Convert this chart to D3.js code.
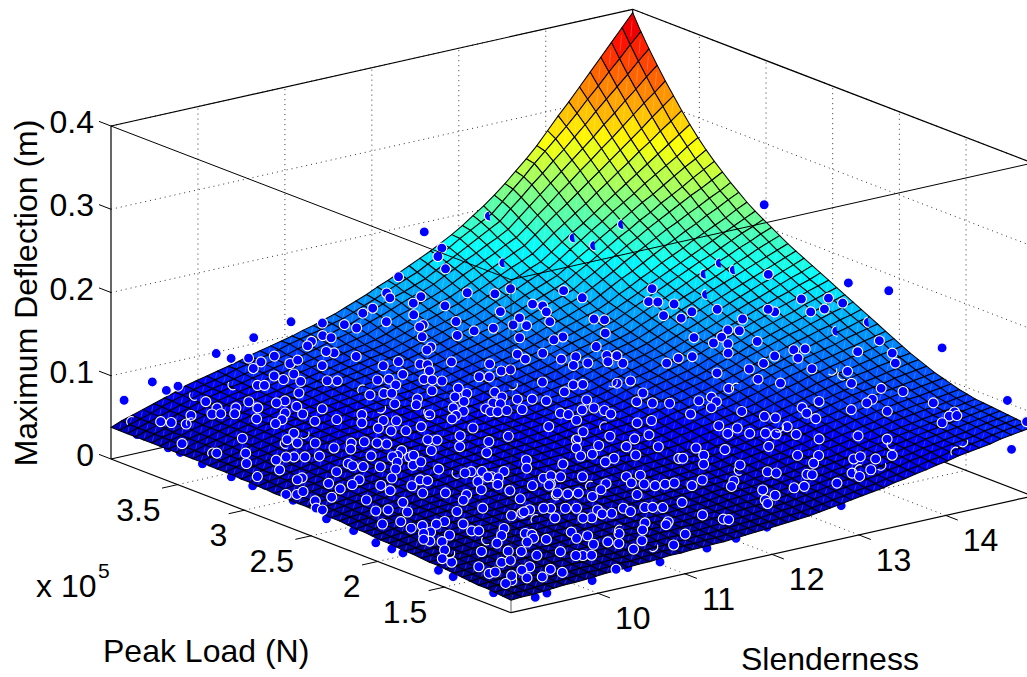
<!DOCTYPE html>
<html>
<head>
<meta charset="utf-8">
<script src="https://cdn.jsdelivr.net/npm/d3@7"></script>
<style>
  body { margin: 0; background: #fff; }
  svg { display: block; font-family: "Liberation Sans", Arial, sans-serif; fill: #000; }
</style>
</head>
<body>
<div id="chart"></div>
<script>
// tick labels
var slendernessTicks = [10, 11, 12, 13, 14];
var loadTicks = [1.5, 2, 2.5, 3, 3.5];      // x 10^5 N
var deflectionTicks = [0, 0.1, 0.2, 0.3, 0.4];

// fitted surface, maximum deflection in mm
// one row per peak load (1e5 to 4e5 N), one column per slenderness (9 to 15)
var deflectionMm = [
[15,16,16,17,18,19,19,20,21,22,22,23,24,24,25,26,26,27,27,28,28,29,30,31,32,33,34,35,36,38,40,42,44,46,48,50,53,55,58,60,63,65,68,70,72,74,77,79,81,83],
[16,17,17,18,19,19,20,21,22,22,23,24,24,25,26,27,27,28,28,29,29,30,31,32,33,34,35,36,37,39,41,43,45,47,49,51,54,56,59,61,64,66,69,71,73,75,78,80,82,84],
[17,18,18,19,20,20,21,22,23,23,24,25,25,26,27,28,28,29,29,30,30,31,32,33,34,35,37,38,39,41,43,45,47,49,51,53,55,58,60,63,65,68,70,72,74,76,79,81,83,85],
[18,19,19,20,21,21,22,23,24,24,25,26,26,27,28,29,29,30,30,31,31,32,33,34,35,36,38,39,40,42,44,46,48,50,52,54,56,59,61,64,66,69,71,73,75,77,80,82,84,86],
[18,19,20,21,22,23,24,25,26,26,27,28,28,29,30,31,31,32,32,33,33,34,35,36,37,38,39,40,41,43,45,47,49,51,53,55,58,60,63,65,68,70,73,75,77,79,81,83,85,87],
[19,20,21,22,23,24,25,26,27,27,28,29,29,30,31,32,32,33,33,34,34,35,36,37,38,39,40,41,42,44,46,48,50,52,54,56,59,61,64,66,69,71,74,76,78,80,82,84,86,88],
[20,21,22,23,24,25,26,27,28,28,29,30,30,31,32,33,33,34,34,35,35,36,37,38,39,41,42,43,44,46,48,50,52,54,56,58,60,63,65,68,70,73,75,77,79,81,83,85,87,89],
[21,22,23,24,25,26,27,28,29,29,30,31,31,32,33,34,34,35,35,36,36,37,38,39,40,42,43,44,45,47,49,51,53,55,57,59,61,64,66,69,71,74,76,78,80,82,84,86,88,90],
[22,23,24,25,26,27,28,29,30,30,31,32,32,33,34,35,35,36,36,37,37,38,39,40,41,43,44,45,46,48,50,52,55,57,59,61,64,66,69,71,74,76,79,81,83,85,86,88,90,92],
[23,24,25,26,27,28,29,30,31,31,32,33,33,34,35,36,36,37,38,38,39,40,41,42,43,45,46,47,48,50,52,54,57,59,61,63,66,68,71,73,76,78,81,83,85,87,88,90,92,94],
[23,24,25,26,28,29,30,31,32,32,33,34,34,35,36,37,37,38,39,39,40,41,42,43,44,46,47,48,49,51,54,56,58,60,63,65,68,70,73,76,79,81,84,86,88,90,91,93,95,97],
[24,25,26,27,29,30,31,32,33,34,35,35,36,37,38,39,39,40,41,41,42,43,44,45,46,48,49,50,51,53,56,58,60,62,65,67,70,73,76,78,81,84,87,89,91,93,94,96,98,100],
[25,26,27,28,30,31,32,33,34,35,36,36,37,38,39,40,40,41,42,42,43,44,45,46,48,49,50,52,53,55,58,60,62,64,67,69,72,75,78,80,83,86,89,91,93,95,97,99,101,103],
[25,26,28,29,30,31,33,34,35,36,37,37,38,39,40,41,42,43,43,44,45,46,47,48,50,51,52,54,55,57,60,62,64,66,69,71,74,77,80,83,86,89,92,94,96,98,101,103,105,107],
[26,27,29,30,31,32,34,35,36,37,38,39,40,41,42,43,44,44,45,46,46,47,48,49,51,52,53,55,56,58,61,63,66,68,71,73,76,79,82,85,88,91,94,96,99,101,104,106,109,111],
[27,28,30,31,32,33,35,36,37,38,39,40,41,42,43,44,45,46,46,47,48,49,50,51,53,54,55,57,58,61,63,66,68,71,73,76,79,82,85,89,92,95,98,100,103,105,108,110,113,115],
[27,28,30,31,33,34,36,37,38,39,40,42,43,44,45,46,47,47,48,49,50,51,52,54,55,57,58,60,61,63,66,68,71,73,76,78,81,85,88,91,94,98,101,104,106,109,112,115,117,120],
[28,29,31,32,34,35,37,38,39,40,42,43,44,46,47,48,49,50,50,51,52,53,54,56,57,59,60,62,63,66,68,71,73,76,78,81,84,88,91,95,98,102,105,108,111,114,116,119,122,125],
[29,30,32,33,35,36,38,39,40,41,43,44,45,47,48,49,50,51,51,52,53,54,56,57,59,60,62,63,65,68,70,73,76,79,81,84,88,91,95,98,102,105,109,112,115,118,121,124,127,130],
[29,31,32,34,35,37,38,40,41,43,44,46,47,49,50,51,52,53,53,54,55,56,58,59,61,62,64,65,67,70,73,76,78,81,84,87,91,94,98,102,106,109,113,116,119,122,126,129,132,135],
[30,32,33,35,36,38,39,41,42,44,45,47,48,50,51,52,53,54,55,56,57,58,60,61,63,64,66,67,69,72,75,78,80,83,86,89,93,97,101,105,108,112,116,119,123,126,130,133,137,140],
[31,33,34,36,38,40,41,43,44,46,47,49,50,52,53,54,55,56,57,58,59,60,62,63,65,67,69,70,72,75,78,81,83,86,89,92,96,100,104,108,112,116,120,124,127,131,134,138,141,145],
[31,33,35,37,39,41,42,44,45,47,48,50,51,53,54,55,56,57,59,60,61,62,64,66,67,69,71,72,74,77,80,83,86,89,92,95,99,103,107,112,116,120,124,128,131,135,139,143,146,150],
[32,34,36,38,39,41,43,45,46,48,49,51,52,54,55,56,57,59,60,61,62,63,65,67,69,70,72,74,76,79,82,85,88,91,94,97,101,106,110,114,119,123,127,131,135,139,143,147,151,155],
[32,34,36,38,40,42,44,46,47,49,50,52,53,55,56,57,59,60,61,62,64,65,67,69,71,72,74,76,78,81,84,87,91,94,97,100,104,109,113,118,122,127,131,135,139,143,148,152,156,160],
[33,35,37,39,41,43,45,47,48,50,51,53,54,56,57,58,60,61,63,64,66,67,69,71,73,74,76,78,80,83,87,90,93,96,100,103,108,112,117,121,126,130,135,139,144,148,152,157,161,165],
[33,35,37,39,42,44,46,48,50,51,53,54,56,57,59,60,62,63,64,66,67,68,70,72,74,76,78,80,82,85,89,92,95,98,102,105,110,115,119,124,129,133,138,143,147,152,156,161,165,170],
[33,35,38,40,42,44,47,49,51,52,54,55,57,58,60,61,63,64,65,67,68,69,71,73,75,78,80,82,84,87,91,94,98,101,105,108,113,118,123,127,132,137,142,147,151,156,161,166,170,175],
[34,36,39,41,43,45,48,50,52,53,55,56,58,59,61,62,64,65,67,68,70,71,73,75,77,80,82,84,86,90,93,97,100,104,107,111,116,121,126,131,136,141,146,151,156,161,165,170,175,180],
[34,36,39,41,44,46,49,51,53,54,56,57,59,60,62,64,65,67,68,70,71,73,75,77,79,82,84,86,88,92,96,99,103,107,110,114,119,124,129,135,140,145,150,155,160,165,170,175,180,185],
[35,37,40,42,45,47,50,52,54,55,57,59,60,62,64,65,67,68,70,71,73,74,76,79,81,84,86,88,91,95,98,102,106,110,113,117,122,128,133,139,144,150,155,160,165,170,175,180,185,190],
[35,38,40,43,45,48,50,53,55,57,58,60,62,63,65,67,68,70,71,73,74,76,79,81,84,86,89,91,94,98,101,105,109,113,116,120,126,131,137,142,148,153,159,164,170,175,180,186,191,196],
[36,39,41,44,46,49,51,54,56,58,59,61,63,64,66,68,69,71,73,75,76,78,81,83,86,88,91,93,96,100,104,108,111,115,119,123,129,135,141,146,152,158,164,169,175,180,186,191,197,202],
[36,39,41,44,47,50,52,55,57,59,61,62,64,66,68,70,72,73,75,77,78,80,83,86,88,91,94,96,99,103,107,111,114,118,122,126,132,138,144,150,156,162,168,174,179,185,191,197,202,208],
[37,40,42,45,48,51,53,56,58,60,62,63,65,67,69,71,73,74,76,78,79,81,84,87,90,93,95,98,101,105,109,113,117,121,125,129,135,141,147,154,160,166,172,178,184,190,196,202,208,214],
[37,40,43,46,48,51,54,57,59,61,63,65,67,69,71,73,75,76,78,80,81,83,86,89,92,94,97,100,103,107,111,115,120,124,128,132,138,145,151,158,164,171,177,183,190,196,202,208,215,221],
[37,40,43,46,49,52,55,58,60,62,64,66,68,70,72,74,76,78,79,81,83,85,88,91,94,97,100,103,106,110,114,119,123,127,132,136,143,150,157,163,170,177,184,190,197,203,210,216,223,229],
[37,40,43,46,50,53,56,59,61,63,65,68,70,72,74,76,78,80,81,83,85,87,90,93,96,100,103,106,109,114,118,123,127,132,136,141,148,155,162,170,177,184,191,198,204,211,217,224,230,237],
[38,41,44,47,50,54,57,60,62,64,66,69,71,73,75,77,79,81,83,85,87,89,92,95,99,102,105,109,112,117,121,126,131,136,140,145,153,160,168,175,183,190,198,205,212,219,226,232,239,246],
[38,41,44,47,51,54,57,60,62,64,67,69,71,74,76,78,80,82,85,87,89,91,94,98,101,105,108,112,115,120,125,130,135,140,145,150,158,165,173,181,189,196,204,211,219,226,233,241,248,255],
[38,41,45,48,51,55,58,61,63,66,68,71,73,76,78,80,83,85,87,89,92,94,97,101,104,108,111,115,118,123,128,133,139,144,149,154,162,170,178,187,195,203,211,219,226,234,242,250,257,265],
[38,41,45,48,52,55,59,62,64,67,69,72,74,77,79,81,84,86,89,91,94,96,100,104,107,111,115,118,122,127,133,138,143,149,154,159,167,176,184,193,201,210,218,226,235,243,251,259,268,276],
[38,41,45,48,52,55,59,62,65,67,70,72,75,77,80,83,85,88,90,93,95,98,102,106,110,113,117,121,125,130,136,141,147,152,158,163,172,181,190,198,207,216,225,234,243,252,261,270,279,288],
[38,42,45,49,52,56,59,63,66,68,71,73,76,78,81,84,86,89,92,95,97,100,104,108,113,117,121,125,129,135,140,146,152,158,163,169,178,188,197,206,215,225,234,244,253,263,272,282,291,301],
[38,42,45,49,53,57,60,64,67,69,72,75,78,80,83,86,88,91,94,97,99,102,106,111,115,120,124,129,133,139,145,151,157,163,169,175,185,195,205,214,224,234,244,254,264,274,284,295,305,315],
[38,42,46,50,53,57,61,65,68,70,73,76,79,81,84,87,90,93,96,99,102,105,110,114,119,123,128,132,137,143,150,156,162,168,175,181,191,202,212,223,233,244,254,265,275,286,297,308,318,329],
[38,42,46,50,54,58,62,66,69,72,74,77,80,83,86,89,92,95,99,102,105,108,113,117,122,127,132,136,141,148,154,161,167,174,180,187,198,209,220,231,242,253,264,275,287,298,310,321,333,344],
[38,42,46,50,54,58,62,66,69,72,75,78,81,84,87,90,94,97,100,103,107,110,115,120,125,130,134,139,144,151,158,165,172,179,186,193,205,216,228,239,251,262,274,286,299,311,323,335,348,360],
[38,42,46,50,55,59,63,67,70,73,76,80,83,86,89,92,96,99,102,105,109,112,117,122,127,133,138,143,148,155,162,169,177,184,191,198,210,222,234,247,259,271,283,296,310,323,337,350,364,377],
[38,43,47,51,55,59,63,68,71,74,77,80,83,87,90,93,96,99,103,106,110,114,119,124,129,135,140,146,152,158,164,171,178,186,195,204,214,225,237,249,262,277,292,306,321,336,351,366,381,396]
];

// samples behind the surface: [slenderness, peak load x 1e5 N, deflection m]
var samplesBelow = [
[14.91,1.1,.052],[12.92,1.08,.032],[11.99,1.03,.031],[11.68,1.06,.023],[11.33,1.05,.02],[10.76,1.03,.018],[10.42,1.05,.018],[10.01,1.05,.012],
[9.49,1.05,.009],[9.34,1.04,.008],[9.06,1.17,.012],[9.04,1.46,.014],[9.04,1.57,.015],[9.03,1.83,.02],[9.04,1.92,.019],[9.04,2.04,.019],
[9.03,2.2,.024],[9.04,2.41,.025],[9.04,2.66,.032],[9.04,2.87,.037],[9.05,2.97,.03],[9.06,3.05,.037],[9.05,3.13,.031],[9.07,3.36,.032],
[9.06,3.52,.036],[9.06,3.61,.036],[9.07,3.85,.037]
];

// samples above the surface, and the ones off to the sides of it
var samplesAbove = [
[14.81,2.89,.238],[14.95,2.35,.174],[14.97,2.06,.182],[14.97,1.66,.138],[14.97,1.17,.105],[14.93,1,.091],
[9.12,3.98,.069],[9.23,3.84,.097],[9.33,3.8,.087],[9.51,3.83,.086],[9.98,3.85,.113],[10.09,3.81,.107],[10.35,3.81,.126],[10.81,3.83,.133],[11.97,3.78,.163],[12.25,3.77,.211],
[12.56,3.84,.18],[12.53,3.85,.17],[12.51,3.78,.16],[14.75,2.82,.16],
[11.94,3.85,.14],[12.92,3.56,.14],[12.53,3.63,.14],[12.71,3.54,.14],[13.27,3.39,.14],[13.95,3.17,.14],[12.12,3.71,.14],[11.87,3.78,.14],[13.27,3.25,.14],[14.84,2.63,.14],
[11.55,3.7,.14],[11.94,3.65,.14],[12.12,3.53,.14],[12.79,3.31,.14],[12.83,3.26,.14],[13.68,3.02,.14],[13.74,2.99,.14],[13.82,2.92,.14],
[14.66,2.31,.165],[14.67,2.21,.165],[14.66,2.34,.15],
[11.62,3.82,.125],[12.98,3.33,.125],[12.65,3.46,.125],[14.04,2.93,.125],[14.64,2.7,.125],[14.9,2.6,.125],[14.64,2.75,.125],[14.27,2.89,.125],[11.96,3.66,.125],
[12.67,3.33,.125],[13.76,2.96,.125],[13.19,3.11,.125],[13.25,3.07,.125],[13.84,2.88,.125],[14.27,2.7,.125],[11.63,3.65,.125],[12.14,3.46,.125],[12.82,3.2,.125],[11.14,3.81,.125],[11.27,3.73,.125],[11.84,3.51,.125],[12.49,3.26,.125],
[12.89,3.42,.105],[12.09,3.7,.105],[11.61,3.86,.105],[12.6,3.48,.105],[12.41,3.5,.105],[13.32,3.11,.105],[14.27,2.81,.105],[14.34,2.77,.105],[11.22,3.86,.105],[12.2,3.49,.105],[11.92,3.57,.105],[12.94,3.18,.105],[12.61,3.29,.105],[14.09,2.74,.105],[13.88,2.81,.105],[11.24,3.81,.105],
[11.03,3.82,.105],[13.92,2.69,.105],[14.01,2.64,.105],[14.27,2.59,.105],[13,2.97,.105],[11.79,3.42,.105],[12.82,3.17,.105],[10.48,3.74,.105],[14.54,1.85,.145],
[12.02,3.6,.085],[11.23,3.98,.085],[14.69,2.59,.085],[14.79,2.57,.085],[14.49,1.98,.125],[14.32,1.61,.15],[14.15,2.73,.085],[12.8,3.24,.085],[12.6,3.3,.085],[11.29,3.82,.085],[11.26,3.86,.085],
[10.49,3.94,.09],[10.51,3.86,.09],[10.69,3.76,.09],[10.81,3.78,.09],[11.2,3.85,.07],[10.33,3.8,.09],[11.62,3.87,.07],[14.06,2.94,.07],[14.67,2.72,.07],[14.8,2.63,.07],[14.45,2.66,.07],[12.8,3.37,.07],[13.06,3.27,.07],[13.21,3.26,.07],[13.03,3.16,.07],[13.18,3.15,.07],[13.46,3.19,.07],[13.35,3.11,.07],[13.43,3.05,.07],[13.53,3.16,.07],[13.75,2.93,.07],[13.93,2.96,.07],[12.21,3.54,.07],[12.45,3.41,.07],[11.83,3.69,.07],[11.64,3.68,.07],[11.94,3.6,.07],[11.98,3.57,.07],[14.31,1.58,.14],
[11.88,3.49,.07],[12.4,3.29,.07],[12.49,3.28,.07],[11.62,3.52,.07],[10.34,3.65,.09],[10.52,3.62,.09],[13.93,2.67,.07],[14.24,2.63,.07],[14.7,2.46,.07],[14.91,2.33,.07],[14.11,2.48,.07],[14.2,2.37,.07],[14.71,2.17,.07],
[10.34,3.58,.09],[10.43,3.51,.09],[10.95,3.65,.07],[11.02,3.62,.07],[11.33,3.52,.07],[11.43,3.5,.07],[11.68,3.4,.07],[11.73,3.37,.07],[11.78,3.33,.07],[12.13,3.28,.07],[12.2,3.25,.07],[12.49,3.04,.07],[13.15,2.81,.07],[13.01,2.82,.07],[12.66,2.92,.07],[12.74,2.9,.07],[11.37,3.41,.07],[10.04,3.58,.09],[10.09,3.56,.09],
[13.88,2.55,.06],[14.99,2.13,.06],[11.68,3.34,.06],[11.92,3.3,.06],[11.28,3.44,.06],[11.34,3.42,.06],[11.88,3.21,.06],[11.15,3.46,.06],[11.73,3.2,.06],[12.11,3.15,.06],[12.07,3.07,.06],[12.62,2.96,.06],[13.17,2.73,.06],[10.67,3.68,.06],[13.59,2.49,.06],[14.46,1.62,.1],[14.72,2.02,.06],
[11.71,3.12,.06],[11.16,3.28,.06],[11.42,3.28,.06],[12.14,3,.06],[12.25,2.96,.06],[12.32,2.9,.06],[12.63,2.8,.06],[12.96,2.64,.06],[13.05,2.58,.06],[13.17,2.53,.06],[13.43,2.48,.06],[13.54,2.42,.06],[14.29,2.14,.06],[14.61,1.99,.06],[14.7,1.55,.085],[9.83,3.83,.06],[10.14,3.71,.06],[10.42,3.62,.06],[10.32,3.62,.06],
[10.54,3.42,.06],[10.4,3.52,.06],[10.09,3.61,.06],[9.79,3.72,.06],[9.93,3.67,.06],[11.3,3.21,.06],[11.51,3.07,.06],[11.89,3.02,.06],[11.93,2.99,.06],[11.73,2.97,.06],[11.71,2.92,.06],[11.76,2.9,.06],[11.85,2.89,.06],[11.98,2.86,.06],[12.19,2.71,.06],[12.41,2.69,.06],[12.53,2.68,.06],[12.56,2.62,.06],[12.22,2.67,.06],[12.54,2.56,.06],[11.52,3,.06],[11.39,2.97,.06],[11.21,3.05,.06],[13.54,2.23,.06],[14.05,2.11,.06],[13.98,2.03,.06],[14.37,1.95,.06],[14.6,1.83,.06],[14.76,1.43,.08],[14.96,1.6,.06],[14.71,1.38,.08],[13.39,2.36,.06],[13.12,2.34,.06],[10.72,3.24,.06],[9.64,3.66,.06],[9.71,3.64,.06],[9.81,3.6,.06],[10.19,3.47,.06],[10.3,3.41,.06],[9.46,3.7,.06],
[11.45,3.04,.05],[10.72,3.24,.05],[10.92,3.21,.05],[11.01,3.17,.05],[12.33,2.68,.05],[12.87,2.47,.05],[12.72,2.48,.05],[14.1,2.04,.05],[13.77,2.21,.05],[13.82,2.16,.05],[14.94,1.64,.05],[10.03,3.58,.05],[10.2,3.5,.05],[10.08,3.47,.05],[10.41,3.39,.05],[10.6,3.35,.05],[9.28,3.81,.05],[9.34,3.77,.05],[9.42,3.71,.05],
[10.74,3.13,.05],[10.78,3.06,.05],[10.89,3.02,.05],[11.08,3.03,.05],[11.43,2.87,.05],[12.01,2.68,.05],[12.16,2.52,.05],[13.26,2.22,.05],[13.35,2.14,.05],[13.18,2.1,.05],[13.34,2.04,.05],[13.46,2,.05],[13.52,1.96,.05],[13.74,2.02,.05],[13.66,1.9,.05],[10.03,3.3,.05],
[9.86,3.24,.05],[9.56,3.38,.05],[11.53,2.67,.05],[12.27,2.39,.05],[12.58,2.3,.05],[12.4,2.29,.05],[10.88,2.85,.05],[10.94,2.82,.05],[11.19,2.81,.05],[11.29,2.66,.05],[11.96,2.44,.05],[13.74,1.78,.05],[14.08,1.71,.05],[14.23,1.59,.05],[10,3.12,.05],[10.26,3.02,.05],[10.38,3,.05],[10.45,2.95,.05],[10.5,2.91,.05],[9.02,3.48,.05],[9.87,3.17,.05],
[12.17,2.41,.04],[12.35,2.32,.04],[12.58,2.23,.04],[11.96,2.44,.04],[10.2,3.11,.04],[10.3,3.05,.04],[10.86,2.81,.04],[11.14,2.78,.04],[11.22,2.63,.04],[10.64,2.89,.04],[13.39,1.93,.04],[12.83,2.11,.04],[13.01,2.01,.04],[9.46,3.29,.04],[9.25,3.37,.04],
[11.84,2.33,.04],[11.96,2.32,.04],[12.26,2.19,.04],[12.51,2.03,.04],[10.52,2.84,.04],[10.58,2.79,.04],[10.64,2.8,.04],[10.46,2.84,.04],[10.32,2.91,.04],[9.94,3.05,.04],[9.74,3.11,.04],[9.68,3.13,.04],[9.82,3.08,.04],[9.55,3.12,.04],[9.27,3.16,.04],[13.43,1.74,.04],[13.58,1.68,.04],[13.4,1.6,.04],[13.77,1.54,.04],[13.86,1.55,.04],[13.93,1.48,.04],[14.12,1.48,.04],[12.54,2.02,.04],[12.75,2,.04],[12.58,1.89,.04],[12.83,1.78,.04],[12.04,2.21,.04],[11.91,2.19,.04],[11.56,2.28,.04],[11.37,2.43,.04],[11.22,2.33,.04],[10.01,2.88,.04],[10.39,2.76,.04],[10.45,2.68,.04],[10.57,2.7,.04],
[10.06,2.8,.04],[10.18,2.75,.04],[10,2.84,.04],[10.25,2.68,.04],[10.56,2.56,.04],[10.75,2.44,.04],[10.83,2.41,.04],[10.99,2.35,.04],[10.68,2.44,.04],[12.9,1.62,.04],[12.94,1.58,.04],[13.14,1.48,.04],[13.17,1.46,.04],[13.49,1.37,.04],[13.69,1.36,.04],[9.39,2.99,.04],[9.77,2.81,.04],
[10.3,2.53,.035],[10.34,2.5,.035],[10.88,2.37,.035],[11.23,2.21,.035],[11.33,2.22,.035],[11.38,2.18,.035],[11.54,2.12,.035],[11.86,2,.035],[11.99,1.98,.035],[13.56,1.36,.035],[9.18,3.02,.035],[9.48,2.88,.035],[10.13,2.63,.035],[9.41,2.87,.035],[10.85,2.38,.035],[10.91,2.34,.035],
[10.69,2.35,.035],[9.86,2.7,.035],[11.17,2.12,.035],[11.78,1.91,.035],[11.85,1.86,.035],[11.9,1.81,.035],[12,1.8,.035],[12.09,1.79,.035],[11.01,2.15,.035],[11.58,1.97,.035],[12.35,1.75,.035],[12.56,1.65,.035],[13.27,1.34,.035],[9.57,2.74,.035],[9.91,2.57,.035],[10.13,2.48,.035],[9.72,2.66,.035],[10.78,2.26,.035],[12.44,1.59,.035],[12.17,1.71,.035],[12.87,1.4,.035],[12.97,1.39,.035],[9.55,2.64,.035],[11.14,2.11,.035],
[10.56,2.24,.035],[9.88,2.48,.035],[12.6,1.46,.035],[10.24,2.3,.035],[10.75,2.15,.035],[11.11,1.95,.035],[11.2,1.93,.035],[11.43,1.91,.035],[11.24,1.85,.035],[11.6,1.75,.035],[10.36,2.22,.035],[12.59,1.36,.035],[9.05,2.72,.035],[9.13,2.69,.035],[9.23,2.71,.035],[9.33,2.56,.035],[10.07,2.36,.035],[11.05,1.99,.035],
[10.23,2.16,.035],[12.43,1.33,.035],[11.78,1.53,.035],[12.38,1.28,.035],[10.61,1.91,.03],[10.98,1.8,.03],[11.49,1.62,.03],[11.55,1.6,.03],[11.62,1.57,.03],[10.79,1.87,.03],[9.75,2.3,.035],[10.05,2.09,.03],[9.14,2.56,.035],[10.67,2.02,.035],
[10.74,1.89,.03],[10.9,1.83,.03],[9.53,2.43,.035],[9.47,2.32,.03],[9.58,2.3,.03],[9.68,2.22,.03],[10.3,2.06,.03],[11.1,1.72,.03],[11.32,1.67,.03],[11.31,1.61,.03],[11.14,1.64,.03],[11.06,1.66,.03],[10.49,1.89,.03],[11.77,1.37,.03],[9.09,2.52,.03],[9.1,2.48,.03],[10.53,1.9,.03],
[10.37,1.89,.03],[10.64,1.74,.03],[10.91,1.64,.03],[10.84,1.66,.03],[11.84,1.26,.03],[11.87,1.24,.03],[9.45,2.12,.03],[9.77,2,.03],[9.66,1.99,.03],[9.86,1.92,.03],[11.2,1.43,.03],[11.39,1.38,.03],[11.32,1.35,.03],[9.53,2.01,.03],[9.27,2.14,.03],
[9.4,2.01,.03],[10.07,1.75,.03],[9.47,1.91,.03],[9.79,1.81,.03],[9.84,1.79,.03],[10.13,1.63,.03],[10.16,1.6,.03],[10.49,1.52,.03],[10.81,1.37,.03],[11.05,1.35,.03],[11.28,1.18,.03],[9.55,1.82,.03],[9.92,1.67,.03],[10.54,1.43,.03],[9.39,1.91,.03],
[10.25,1.55,.025],[10.49,1.48,.025],[9.82,1.64,.025],[9.37,1.85,.025],[9.36,1.89,.025],[10.65,1.35,.025],[10.7,1.3,.025],[10.92,1.27,.025],[10.5,1.36,.025],[11.07,1.13,.025],[9.45,1.81,.025],[9.31,1.7,.025],[10.18,1.6,.025],[10.06,1.57,.025],
[10.7,1.19,.025],[10.12,1.36,.025],[9.84,1.47,.025],[9.55,1.58,.025],[9.75,1.51,.025],[9.88,1.38,.025],[10.21,1.25,.025],[10.28,1.23,.025],[10.16,1.27,.025],[9.13,1.6,.025],
[9.49,1.39,.025],[9.59,1.39,.025],[9.13,1.53,.025],
[9.69,1.31,.02],[9.27,1.34,.02],[9.79,1.22,.02],[9.82,1.15,.02],[10.27,1.04,.02],[9.57,1.29,.02],[9.34,1.34,.02],[9.32,1.45,.02],
[9.46,1.18,.02],[9.59,1.15,.02],[9.3,1.19,.02],[9.2,1.17,.02],[9.39,1.25,.02]
];

// samples cut through by the surface, only the left half shows
var samplesHalfHidden = [
[13.2,3.9,.2],[14.01,3.43,.2],[13.56,3.5,.19],[13.72,3.45,.18],[12.89,3.59,.17],[14.46,2.99,.17],[14.59,2.97,.16],[14.3,3,.16],[14.24,2.95,.14],[14.65,2.24,.13],[14.89,2.16,.14]
];

// samples just under the surface, only the rim shows
var samplesRimOnly = [
[9.87,3.94,.06],[9.07,3.89,.05],[14.82,2.39,.07],[14.81,2.3,.07],[13.94,2.53,.06],[13.67,2.04,.05],[12.73,1.72,.04],[13.61,1.39,.04],[13.85,1.39,.04],[14.32,1.61,.04],[14.64,1.34,.04],[14.73,1.35,.05],
[10.19,3.86,.07],[9.48,3.71,.05],[10.1,3.27,.05],[9.78,3.2,.05],[9.22,3.38,.04],[10.98,3.27,.06],[11.26,3.09,.06],[11.19,3.54,.06],[12.22,3.09,.07],[12.01,2.46,.05],[12.41,2.52,.05],[13,2.85,.07],
[9.81,1.71,.025],[10.47,1.77,.03],[9.29,1.65,.025],[10.62,2.46,.04],[10.88,1.41,.03],[10.89,1.17,.025],[11.01,1.97,.035],[11.42,1.98,.035]
];

var width = 1027, height = 677;

var svg = d3.select("#chart").append("svg")
    .attr("width", width)
    .attr("height", height)
    .attr("viewBox", "0 0 " + width + " " + height);

// the box is an orthographic view, so each data axis is just one screen vector
var frontCorner = [511, 612.7];
var xEdge = [521.7, -116.7];
var yEdge = [-400, -153.7];
var zHeight = 333;

var xScale = d3.scaleLinear().domain([9, 15]).range([0, 1]);
var yScale = d3.scaleLinear().domain([1, 4]).range([0, 1]);
var zScale = d3.scaleLinear().domain([0, 0.4]).range([0, 1]);

function project(x, y, z) {
    var u = xScale(x), v = yScale(y);
    return [
        frontCorner[0] + u * xEdge[0] + v * yEdge[0],
        frontCorner[1] + u * xEdge[1] + v * yEdge[1] - zScale(z) * zHeight
    ];
}

var line3d = d3.line();
function seg(a, b) { return line3d([project(a[0], a[1], a[2]), project(b[0], b[1], b[2])]); }

// jet, 64 flat levels
var jet = d3.scaleLinear()
    .domain([0, 0.125, 0.375, 0.625, 0.875, 1])
    .range(["#00008f", "#0000ff", "#00ffff", "#ffff00", "#ff0000", "#800000"]);
var colorLevel = d3.scaleQuantize()
    .domain([15, 410])
    .range(d3.range(64).map(function(k) { return jet(k / 63); }));

var xMin = 9, xMax = 15, yMin = 1, yMax = 4, zMax = 0.4;

// back walls and floor: dotted grid
var gridLines = [];
slendernessTicks.forEach(function(t) {
    gridLines.push([[t, yMin, 0], [t, yMax, 0]]);
    gridLines.push([[t, yMax, 0], [t, yMax, zMax]]);
});
loadTicks.forEach(function(t) {
    gridLines.push([[xMin, t, 0], [xMax, t, 0]]);
    gridLines.push([[xMax, t, 0], [xMax, t, zMax]]);
});
deflectionTicks.slice(1).forEach(function(t) {
    gridLines.push([[xMin, yMax, t], [xMax, yMax, t]]);
    gridLines.push([[xMax, yMax, t], [xMax, yMin, t]]);
});
svg.append("g").selectAll("path")
    .data(gridLines)
  .enter().append("path")
    .attr("d", function(d) { return seg(d[0], d[1]); })
    .attr("fill", "none")
    .attr("stroke", "#333")
    .attr("stroke-width", 1)
    .attr("stroke-dasharray", "1 4");

// solid box edges behind the surface
var backEdges = [
    [[xMin, yMin, 0], [xMin, yMax, 0]],
    [[xMin, yMin, 0], [xMax, yMin, 0]],
    [[xMin, yMax, 0], [xMax, yMax, 0]],
    [[xMax, yMin, 0], [xMax, yMax, 0]],
    [[xMin, yMax, 0], [xMin, yMax, zMax]],
    [[xMax, yMax, 0], [xMax, yMax, zMax]],
    [[xMin, yMax, zMax], [xMax, yMax, zMax]],
    [[xMax, yMin, zMax], [xMax, yMax, zMax]]
];
svg.append("g").selectAll("path")
    .data(backEdges)
  .enter().append("path")
    .attr("d", function(d) { return seg(d[0], d[1]); })
    .attr("fill", "none")
    .attr("stroke", "#000")
    .attr("stroke-width", 1.2);

// ticks
var tickLen = 0.03;
var tickGroup = svg.append("g").attr("stroke", "#000").attr("stroke-width", 1).attr("fill", "none");
slendernessTicks.forEach(function(t) {
    var p = project(t, yMin, 0);
    tickGroup.append("path").attr("d", line3d([p, [p[0] - yEdge[0] * tickLen, p[1] - yEdge[1] * tickLen]]));
});
loadTicks.forEach(function(t) {
    var p = project(xMin, t, 0);
    tickGroup.append("path").attr("d", line3d([p, [p[0] - xEdge[0] * tickLen, p[1] - xEdge[1] * tickLen]]));
});
deflectionTicks.forEach(function(t) {
    var p = project(xMin, yMax, t);
    tickGroup.append("path").attr("d", line3d([p, [p[0] + yEdge[0] * tickLen, p[1] + yEdge[1] * tickLen]]));
});

function drawSamples(data) {
    return svg.append("g").selectAll("circle")
        .data(data)
      .enter().append("circle")
        .attr("cx", function(d) { return project(d[0], d[1], d[2])[0]; })
        .attr("cy", function(d) { return project(d[0], d[1], d[2])[1]; })
        .attr("r", 5)
        .attr("fill", "#0000ff")
        .attr("stroke", "#fff")
        .attr("stroke-width", 1.1);
}

drawSamples(samplesBelow);

// surface cells, painted from the back corner to the front corner
var nRows = deflectionMm.length, nCols = deflectionMm[0].length;
var xGrid = d3.scaleLinear().domain([0, nCols - 1]).range([xMin, xMax]);
var yGrid = d3.scaleLinear().domain([0, nRows - 1]).range([yMin, yMax]);
function gridPoint(i, j) { return project(xGrid(i), yGrid(j), deflectionMm[j][i] / 1000); }

var cells = [];
for (var j = nRows - 2; j >= 0; j--) {
    for (var i = nCols - 2; i >= 0; i--) {
        cells.push({i: i, j: j});
    }
}

svg.append("g").selectAll("path")
    .data(cells)
  .enter().append("path")
    .attr("d", function(d) {
        return line3d([gridPoint(d.i, d.j), gridPoint(d.i + 1, d.j), gridPoint(d.i + 1, d.j + 1), gridPoint(d.i, d.j + 1)]) + "Z";
    })
    .attr("fill", function(d) { return colorLevel(deflectionMm[d.j][d.i]); })
    .attr("stroke", "#000")
    .attr("stroke-width", 1.05)
    .attr("stroke-linejoin", "round");

// the renderer left pale seams down the middle of each facet
var seams = cells.map(function(d) {
    var a = gridPoint(d.i, d.j), b = gridPoint(d.i + 1, d.j + 1);
    return "M" + (a[0] * 0.75 + b[0] * 0.25) + "," + (a[1] * 0.75 + b[1] * 0.25) +
           "L" + (a[0] * 0.25 + b[0] * 0.75) + "," + (a[1] * 0.25 + b[1] * 0.75);
}).join("");
svg.append("path")
    .attr("d", seams)
    .attr("fill", "none")
    .attr("stroke", "#fff")
    .attr("stroke-opacity", 0.28)
    .attr("stroke-width", 0.8);

drawSamples(samplesAbove);

// half hidden markers
var halfDisc = d3.arc().innerRadius(0).outerRadius(5).startAngle(-Math.PI - 0.15).endAngle(-0.15);
var halfRim = d3.arc().innerRadius(4.5).outerRadius(5.6).startAngle(-Math.PI - 0.15).endAngle(-0.15);
var halfGroup = svg.append("g").selectAll("g")
    .data(samplesHalfHidden)
  .enter().append("g")
    .attr("transform", function(d) { return "translate(" + project(d[0], d[1], d[2]) + ")"; });
halfGroup.append("path").attr("d", halfDisc()).attr("fill", "#0000ff");
halfGroup.append("path").attr("d", halfRim()).attr("fill", "#fff");

// rims poking through the surface
var rimTurns = [[-3.6, -1.0], [-2.2, 0.4], [1.2, 3.8]];
svg.append("g").selectAll("path")
    .data(samplesRimOnly)
  .enter().append("path")
    .attr("transform", function(d) { return "translate(" + project(d[0], d[1], d[2]) + ")"; })
    .attr("d", function(d, k) {
        var turn = rimTurns[k % rimTurns.length];
        return d3.arc()({innerRadius: 4.5, outerRadius: 5.6, startAngle: turn[0], endAngle: turn[1]});
    })
    .attr("fill", "#fff");

// front box edges pass in front of everything
var frontEdges = [
    [[xMin, yMax, zMax], [xMin, yMin, zMax]],
    [[xMax, yMin, zMax], [xMin, yMin, zMax]]
];
svg.append("g").selectAll("path")
    .data(frontEdges)
  .enter().append("path")
    .attr("d", function(d) { return seg(d[0], d[1]); })
    .attr("fill", "none")
    .attr("stroke", "#000")
    .attr("stroke-width", 1);
svg.append("path")
    .attr("d", seg([xMin, yMin, 0], [xMin, yMin, zMax]))
    .attr("fill", "none")
    .attr("stroke", "#222")
    .attr("stroke-opacity", 0.6)
    .attr("stroke-width", 1.2);

// labels
var fontSize = 32;
svg.append("g").selectAll("text")
    .data(deflectionTicks)
  .enter().append("text")
    .attr("x", 94)
    .attr("y", function(d) { return project(xMin, yMax, d)[1] + 7; })
    .attr("text-anchor", "end")
    .attr("font-size", fontSize)
    .text(function(d) { return d; });
svg.append("g").selectAll("text")
    .data(loadTicks)
  .enter().append("text")
    .attr("x", function(d) { return project(xMin, d, 0)[0] - 17; })
    .attr("y", function(d) { return project(xMin, d, 0)[1] + 36; })
    .attr("text-anchor", "end")
    .attr("font-size", fontSize)
    .text(function(d) { return d; });
svg.append("g").selectAll("text")
    .data(slendernessTicks)
  .enter().append("text")
    .attr("x", function(d) { return project(d, yMin, 0)[0] + 17; })
    .attr("y", function(d) { return project(d, yMin, 0)[1] + 36; })
    .attr("font-size", fontSize)
    .text(function(d) { return d; });

svg.append("text").attr("x", 36).attr("y", 597).attr("font-size", fontSize).text("x 10");
svg.append("text").attr("x", 98).attr("y", 578).attr("font-size", 21).text("5");
svg.append("text").attr("x", 103).attr("y", 662).attr("font-size", fontSize).text("Peak Load (N)");
svg.append("text").attr("x", 741).attr("y", 670).attr("font-size", fontSize).text("Slenderness");
svg.append("text")
    .attr("transform", "translate(37,293) rotate(-90)")
    .attr("text-anchor", "middle")
    .attr("font-size", fontSize)
    .text("Maximum Deflection (m)");
</script>
</body>
</html>
